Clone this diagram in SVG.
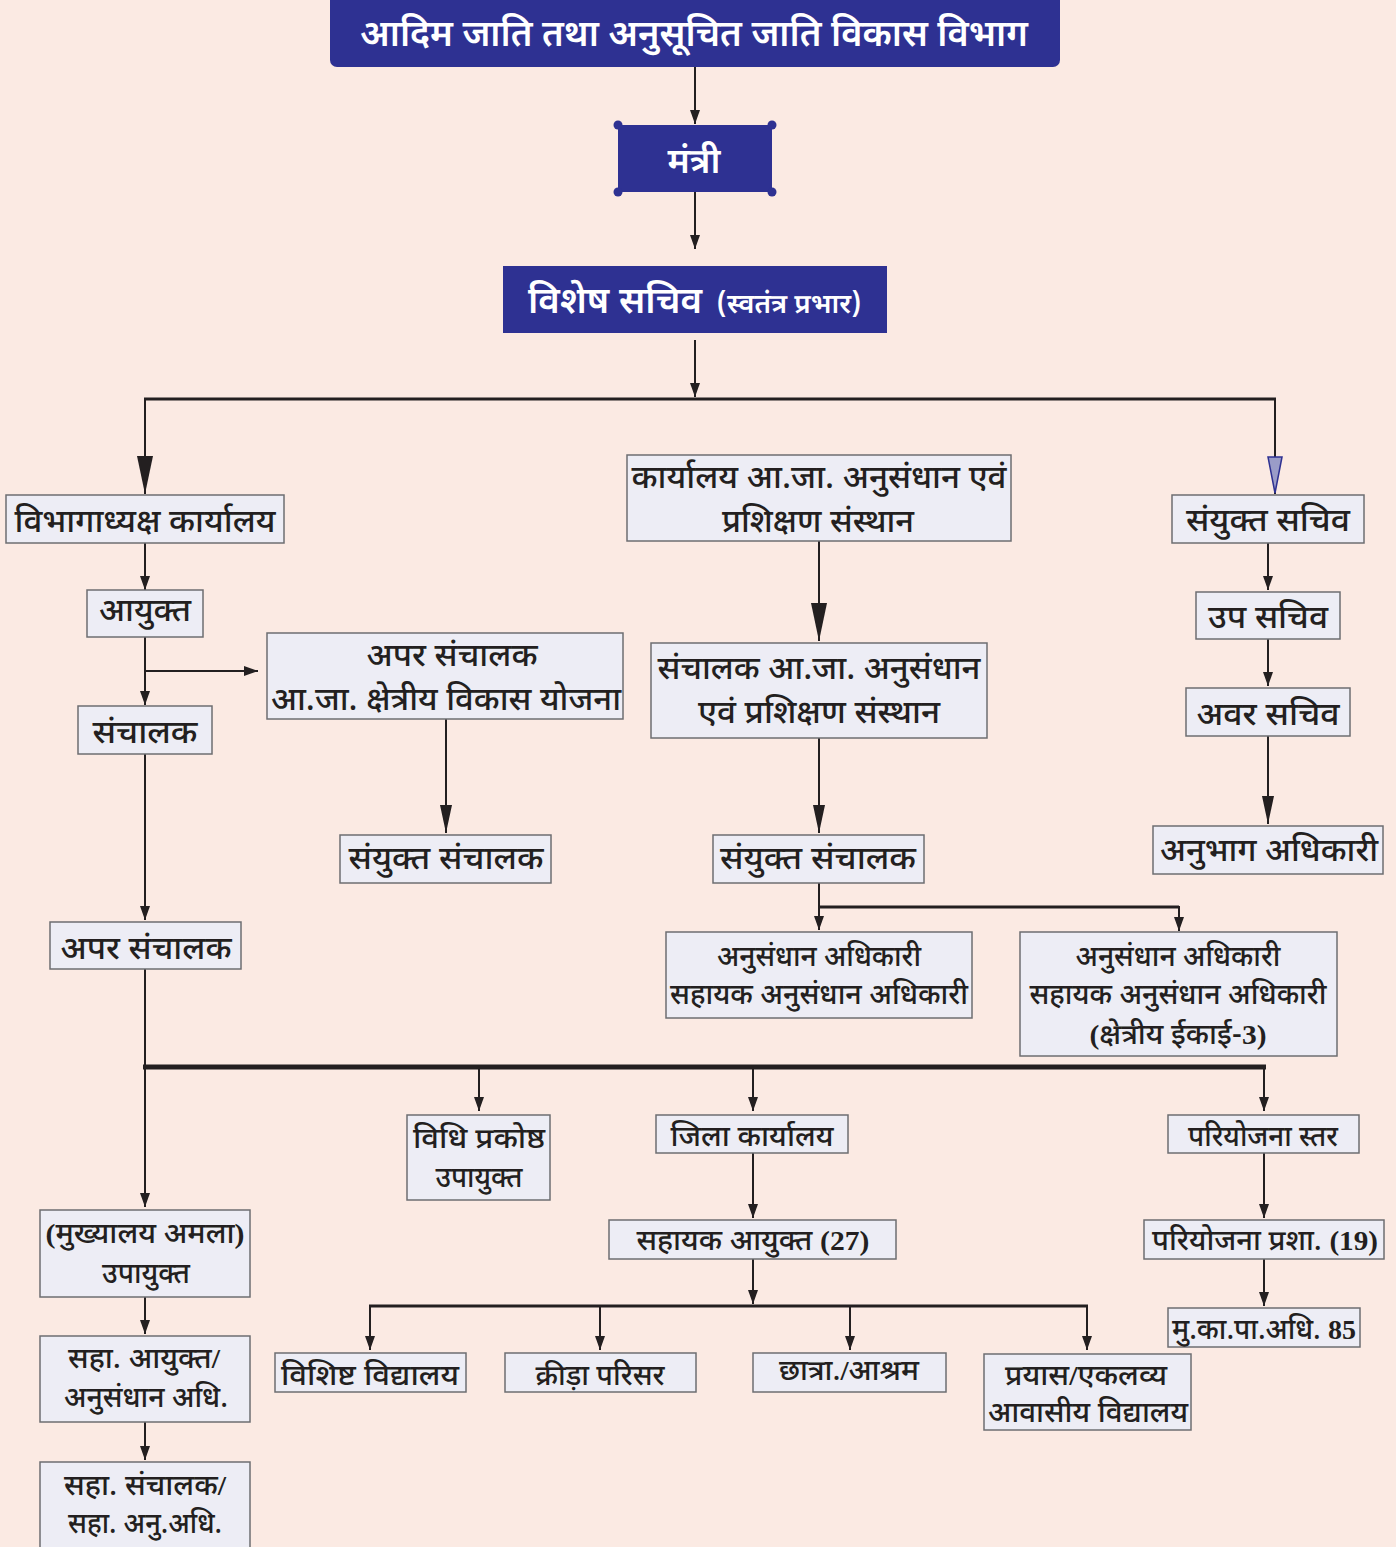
<svg xmlns="http://www.w3.org/2000/svg" width="1396" height="1547" viewBox="0 0 1396 1547">
<style>
.bg{fill:#fbeae3}
.bx{fill:#ededf5;stroke:#6d6e71;stroke-width:1.5}
.bb{fill:#2e3192}
.t{font-family:"Noto Sans Devanagari","Noto Sans","Lohit Devanagari",sans-serif;font-size:32px;font-weight:500;fill:#231f20;text-anchor:middle}
.s{font-size:28px}
.w{fill:#ffffff;font-size:37px;font-weight:600}
.n{font-family:"Liberation Serif",serif;font-weight:700}
.c{fill:none;stroke:#231f20;stroke-width:2}
.h3{stroke-width:3}
.h5{stroke-width:5}
</style>
<defs>
<marker id="a" viewBox="0 0 14 10" refX="14" refY="5" markerWidth="14" markerHeight="10" markerUnits="userSpaceOnUse" orient="auto"><path d="M0,0 L14,5 L0,10 z" fill="#231f20"/></marker>
<marker id="m" viewBox="0 0 28 12" refX="28" refY="6" markerWidth="28" markerHeight="12" markerUnits="userSpaceOnUse" orient="auto"><path d="M0,0 L28,6 L0,12 z" fill="#231f20"/></marker>
<marker id="b" viewBox="0 0 38 16" refX="38" refY="8" markerWidth="38" markerHeight="16" markerUnits="userSpaceOnUse" orient="auto"><path d="M0,0 L38,8 L0,16 z" fill="#231f20"/></marker>
<marker id="bn" viewBox="0 0 38 16" refX="38" refY="8" markerWidth="38" markerHeight="16" markerUnits="userSpaceOnUse" orient="auto"><path d="M1,1 L37,8 L1,15 z" fill="#9a9cc8" stroke="#2e3192" stroke-width="1.5"/></marker>
</defs>
<rect class="bg" x="0" y="0" width="1396" height="1547"/>

<g id="connectors">
<path class="c" d="M695,67 V124" marker-end="url(#a)"/>
<path class="c" d="M695,192 V249" marker-end="url(#a)"/>
<path class="c" d="M695,340 V397" marker-end="url(#a)"/>
<path class="c h3" d="M144,399 H1276"/>
<path class="c" d="M145,398 V494" marker-end="url(#b)"/>
<path class="c" d="M1275,398 V494" stroke="#2e3192" marker-end="url(#bn)"/>
<path class="c" d="M145,543 V590" marker-end="url(#a)"/>
<path class="c" d="M145,637 V705" marker-end="url(#a)"/>
<path class="c" d="M145,671 H258" marker-end="url(#a)"/>
<path class="c" d="M145,754 V920" marker-end="url(#a)"/>
<path class="c" d="M446,719 V833" marker-end="url(#m)"/>
<path class="c" d="M819,541 V641" marker-end="url(#b)"/>
<path class="c" d="M819,738 V833" marker-end="url(#m)"/>
<path class="c" d="M819,883 V930" marker-end="url(#a)"/>
<path class="c h3" d="M819,907 H1179"/>
<path class="c" d="M1179,906 V931" stroke-width="1.5" marker-end="url(#a)"/>
<path class="c" d="M1268,543 V590" marker-end="url(#a)"/>
<path class="c" d="M1268,639 V686" marker-end="url(#a)"/>
<path class="c" d="M1268,736 V824" marker-end="url(#m)"/>
<path class="c" d="M145,969 V1207" marker-end="url(#a)"/>
<path class="c h5" d="M143,1067 H1266"/>
<path class="c" d="M479,1067 V1111" marker-end="url(#a)"/>
<path class="c" d="M753,1067 V1111" marker-end="url(#a)"/>
<path class="c" d="M1264,1067 V1111" marker-end="url(#a)"/>
<path class="c" d="M753,1153 V1218" marker-end="url(#a)"/>
<path class="c" d="M753,1259 V1304" marker-end="url(#a)"/>
<path class="c h3" d="M369,1306 H1088"/>
<path class="c" d="M370,1306 V1350" marker-end="url(#a)"/>
<path class="c" d="M600,1306 V1350" marker-end="url(#a)"/>
<path class="c" d="M850,1306 V1350" marker-end="url(#a)"/>
<path class="c" d="M1087,1306 V1350" marker-end="url(#a)"/>
<path class="c" d="M1264,1153 V1218" marker-end="url(#a)"/>
<path class="c" d="M1264,1259 V1306" marker-end="url(#a)"/>
<path class="c" d="M145,1297 V1334" marker-end="url(#a)"/>
<path class="c" d="M145,1422 V1460" marker-end="url(#a)"/>
</g>

<g id="n-vibhag">
<rect class="bb" x="330" y="-8" width="730" height="75" rx="7"/>
<text class="t w" x="694" y="46" textLength="668" lengthAdjust="spacingAndGlyphs">आदिम जाति तथा अनुसूचित जाति विकास विभाग</text>
</g>
<g id="n-mantri">
<rect class="bb" x="618" y="125" width="154" height="67"/>
<circle class="bb" cx="618" cy="125" r="4.5"/><circle class="bb" cx="772" cy="125" r="4.5"/>
<circle class="bb" cx="618" cy="192" r="4.5"/><circle class="bb" cx="772" cy="192" r="4.5"/>
<text class="t w" x="694" y="173" style="font-size:35px" textLength="53" lengthAdjust="spacingAndGlyphs">मंत्री</text>
</g>
<g id="n-vishesh">
<rect class="bb" x="503" y="266" width="384" height="67"/>
<text class="t w" x="615" y="313" textLength="174" lengthAdjust="spacingAndGlyphs">विशेष सचिव</text>
<text class="t w" x="789" y="313" style="font-size:27px" textLength="145" lengthAdjust="spacingAndGlyphs">(स्वतंत्र प्रभार)</text>
</g>
<g id="n-vibhagadhyaksh">
<rect class="bx" x="6" y="495" width="278" height="48"/>
<text class="t" x="145" y="532" textLength="261" lengthAdjust="spacingAndGlyphs">विभागाध्यक्ष कार्यालय</text>
</g>
<g id="n-ayukt">
<rect class="bx" x="87" y="590" width="116" height="47"/>
<text class="t" x="145" y="621" textLength="92" lengthAdjust="spacingAndGlyphs">आयुक्त</text>
</g>
<g id="n-apar-kshetriya">
<rect class="bx" x="267" y="633" width="356" height="86"/>
<text class="t" x="452" y="666" textLength="171" lengthAdjust="spacingAndGlyphs">अपर संचालक</text>
<text class="t" x="446" y="710" textLength="350" lengthAdjust="spacingAndGlyphs">आ.जा. क्षेत्रीय विकास योजना</text>
</g>
<g id="n-sanchalak">
<rect class="bx" x="78" y="706" width="134" height="48"/>
<text class="t" x="145" y="743" textLength="105" lengthAdjust="spacingAndGlyphs">संचालक</text>
</g>
<g id="n-sanyukt-sanchalak-1">
<rect class="bx" x="340" y="835" width="211" height="48"/>
<text class="t" x="446" y="869" textLength="195" lengthAdjust="spacingAndGlyphs">संयुक्त संचालक</text>
</g>
<g id="n-apar-sanchalak">
<rect class="bx" x="50" y="922" width="191" height="47"/>
<text class="t" x="146" y="959" textLength="171" lengthAdjust="spacingAndGlyphs">अपर संचालक</text>
</g>
<g id="n-karyalay-anusandhan">
<rect class="bx" x="627" y="455" width="384" height="86"/>
<text class="t" x="819" y="488" textLength="375" lengthAdjust="spacingAndGlyphs">कार्यालय आ.जा. अनुसंधान एवं</text>
<text class="t" x="818" y="532" textLength="192" lengthAdjust="spacingAndGlyphs">प्रशिक्षण संस्थान</text>
</g>
<g id="n-sanchalak-anusandhan">
<rect class="bx" x="651" y="643" width="336" height="95"/>
<text class="t" x="819" y="679" textLength="323" lengthAdjust="spacingAndGlyphs">संचालक आ.जा. अनुसंधान</text>
<text class="t" x="819" y="723" textLength="242" lengthAdjust="spacingAndGlyphs">एवं प्रशिक्षण संस्थान</text>
</g>
<g id="n-sanyukt-sanchalak-2">
<rect class="bx" x="713" y="835" width="211" height="48"/>
<text class="t" x="818" y="869" textLength="196" lengthAdjust="spacingAndGlyphs">संयुक्त संचालक</text>
</g>
<g id="n-anusandhan-1">
<rect class="bx" x="666" y="932" width="306" height="86"/>
<text class="t s" x="819" y="966" textLength="204" lengthAdjust="spacingAndGlyphs">अनुसंधान अधिकारी</text>
<text class="t s" x="819" y="1004" textLength="298" lengthAdjust="spacingAndGlyphs">सहायक अनुसंधान अधिकारी</text>
</g>
<g id="n-anusandhan-2">
<rect class="bx" x="1020" y="932" width="317" height="124"/>
<text class="t s" x="1178" y="966" textLength="205" lengthAdjust="spacingAndGlyphs">अनुसंधान अधिकारी</text>
<text class="t s" x="1178" y="1004" textLength="297" lengthAdjust="spacingAndGlyphs">सहायक अनुसंधान अधिकारी</text>
<text class="t s" x="1178" y="1044" textLength="177" lengthAdjust="spacingAndGlyphs"><tspan class="n">(</tspan>क्षेत्रीय ईकाई-<tspan class="n">3)</tspan></text>
</g>
<g id="n-sanyukt-sachiv">
<rect class="bx" x="1172" y="495" width="192" height="48"/>
<text class="t" x="1268" y="531" textLength="164" lengthAdjust="spacingAndGlyphs">संयुक्त सचिव</text>
</g>
<g id="n-up-sachiv">
<rect class="bx" x="1196" y="592" width="144" height="47"/>
<text class="t" x="1268" y="628" textLength="120" lengthAdjust="spacingAndGlyphs">उप सचिव</text>
</g>
<g id="n-avar-sachiv">
<rect class="bx" x="1186" y="688" width="164" height="48"/>
<text class="t" x="1268" y="725" textLength="143" lengthAdjust="spacingAndGlyphs">अवर सचिव</text>
</g>
<g id="n-anubhag">
<rect class="bx" x="1153" y="826" width="230" height="48"/>
<text class="t" x="1269" y="861" textLength="218" lengthAdjust="spacingAndGlyphs">अनुभाग अधिकारी</text>
</g>
<g id="n-vidhi">
<rect class="bx" x="407" y="1115" width="143" height="85"/>
<text class="t s" x="479" y="1148" textLength="132" lengthAdjust="spacingAndGlyphs">विधि प्रकोष्ठ</text>
<text class="t s" x="479" y="1187" textLength="87" lengthAdjust="spacingAndGlyphs">उपायुक्त</text>
</g>
<g id="n-jila">
<rect class="bx" x="656" y="1115" width="192" height="38"/>
<text class="t s" x="752" y="1146" textLength="163" lengthAdjust="spacingAndGlyphs">जिला कार्यालय</text>
</g>
<g id="n-pariyojana-star">
<rect class="bx" x="1168" y="1115" width="191" height="38"/>
<text class="t s" x="1263" y="1146" textLength="150" lengthAdjust="spacingAndGlyphs">परियोजना स्तर</text>
</g>
<g id="n-mukhyalay">
<rect class="bx" x="40" y="1210" width="210" height="87"/>
<text class="t s" x="145" y="1243" textLength="199" lengthAdjust="spacingAndGlyphs"><tspan class="n">(</tspan>मुख्यालय अमला<tspan class="n">)</tspan></text>
<text class="t s" x="146" y="1283" textLength="88" lengthAdjust="spacingAndGlyphs">उपायुक्त</text>
</g>
<g id="n-saha-ayukt">
<rect class="bx" x="40" y="1336" width="210" height="86"/>
<text class="t s" x="144" y="1368" textLength="152" lengthAdjust="spacingAndGlyphs">सहा. आयुक्त<tspan class="n">/</tspan></text>
<text class="t s" x="146" y="1407" textLength="164" lengthAdjust="spacingAndGlyphs">अनुसंधान अधि.</text>
</g>
<g id="n-saha-sanchalak">
<rect class="bx" x="40" y="1462" width="210" height="95"/>
<text class="t s" x="145" y="1495" textLength="162" lengthAdjust="spacingAndGlyphs">सहा. संचालक<tspan class="n">/</tspan></text>
<text class="t s" x="145" y="1533" textLength="154" lengthAdjust="spacingAndGlyphs">सहा. अनु.अधि.</text>
</g>
<g id="n-sahayak-ayukt">
<rect class="bx" x="609" y="1220" width="287" height="39"/>
<text class="t s" x="753" y="1250" textLength="233" lengthAdjust="spacingAndGlyphs">सहायक आयुक्त <tspan class="n">(27)</tspan></text>
</g>
<g id="n-pariyojana-prasha">
<rect class="bx" x="1144" y="1220" width="240" height="39"/>
<text class="t s" x="1265" y="1250" textLength="226" lengthAdjust="spacingAndGlyphs">परियोजना प्रशा. <tspan class="n">(19)</tspan></text>
</g>
<g id="n-mukapa">
<rect class="bx" x="1168" y="1308" width="192" height="39"/>
<text class="t s" x="1264" y="1339" textLength="184" lengthAdjust="spacingAndGlyphs">मु.का.पा.अधि. <tspan class="n">85</tspan></text>
</g>
<g id="n-vishisht">
<rect class="bx" x="275" y="1353" width="191" height="39"/>
<text class="t s" x="370" y="1385" textLength="178" lengthAdjust="spacingAndGlyphs">विशिष्ट विद्यालय</text>
</g>
<g id="n-krida">
<rect class="bx" x="505" y="1353" width="191" height="39"/>
<text class="t s" x="600" y="1385" textLength="129" lengthAdjust="spacingAndGlyphs">क्रीड़ा परिसर</text>
</g>
<g id="n-chhatra">
<rect class="bx" x="753" y="1353" width="193" height="39"/>
<text class="t s" x="849" y="1380" textLength="140" lengthAdjust="spacingAndGlyphs">छात्रा.<tspan class="n">/</tspan>आश्रम</text>
</g>
<g id="n-prayas">
<rect class="bx" x="984" y="1354" width="207" height="76"/>
<text class="t s" x="1086" y="1385" textLength="162" lengthAdjust="spacingAndGlyphs">प्रयास<tspan class="n">/</tspan>एकलव्य</text>
<text class="t s" x="1088" y="1422" textLength="200" lengthAdjust="spacingAndGlyphs">आवासीय विद्यालय</text>
</g>
</svg>
